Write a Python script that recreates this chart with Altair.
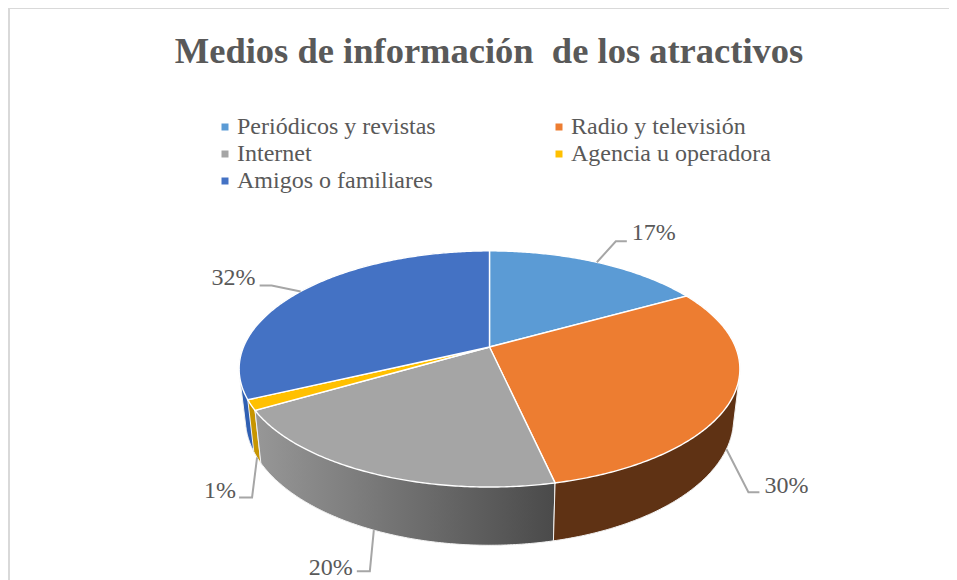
import numpy as np
import altair as alt

TITLE = "Medios de información\u00a0 de los atractivos"
categories = ["Periódicos y revistas", "Radio y televisión", "Internet", "Agencia u operadora", "Amigos o familiares"]
shares = [16.9, 29.6, 20.1, 1.4, 32.0]
top_colors = ["#5B9BD5", "#ED7D31", "#A5A5A5", "#FFC000", "#4472C4"]
wall_colors = ["#33608A", "#5F3214", None, "#C79500", "#2F5FB3"]
label_rim = ["top", "bottom", "bottom", "bottom", "top"]
# leader elbow and end, label start: offsets from the rim point of each slice
leader_elbow = [(19, -21), (22, 43), (-4, 41), (-5, 40), (-29, -6)]
leader_end = [(30, -21), (33, 43), (-17, 41), (-18, 40), (-41, -6)]
label_pos = [(35, -29), (38, 37), (-65, 38), (-53, 34), (-89, -13)]

TEXT = "#595959"
SERIF = "Liberation Serif"
OX, OY = 8, 8                # page margin
CX, CY = 489.5 - OX, 347 - OY  # pie apex on the canvas
A, B, K = 246.0, 114.0, -0.186  # perspective of the disc
SHRINK = 0.975
W, H = 941, 572


def rim(theta, lower=False):
    u, v = np.sin(theta), -np.cos(theta)
    d = 1 + K * v
    x, y = A * u / d, B * v / d
    if lower:
        depth = 52 + (y - 53) * (6 / 84)
        return CX + SHRINK * x, CY + y + depth
    return CX + x, CY + y


def arc(t0, t1, lower=False):
    n = max(3, int(abs(t1 - t0) / 0.01))
    return [[float(p) for p in rim(t, lower)] for t in np.linspace(t0, t1, n)]


def hull(points):
    pts = sorted(map(tuple, points))

    def half(seq):
        out = []
        for p in seq:
            while len(out) > 1 and (out[-1][0] - out[-2][0]) * (p[1] - out[-2][1]) - (out[-1][1] - out[-2][1]) * (p[0] - out[-2][0]) <= 0:
                out.pop()
            out.append(p)
        return out[:-1]

    ring = half(pts) + half(pts[::-1])
    return [list(p) for p in ring + ring[:1]]


def feature(coords, name, kind="Polygon"):
    geom = {"type": kind, "coordinates": [coords] if kind == "Polygon" else coords}
    return {"type": "Feature", "geometry": geom, "properties": {"name": name}}


edges = 2 * np.pi * np.cumsum([0] + shares) / sum(shares)
faces, walls = [], []
for i, name in enumerate(categories):
    t0, t1 = edges[i], edges[i + 1]
    poly = [[CX, CY]] + arc(t0, t1) + [[CX, CY]]
    faces.append(feature(poly, name))
    walls.append(feature(hull(arc(t0, t1) + arc(t0, t1, lower=True)), name))

face_layer = (
    alt.Chart(alt.Data(values=faces))
    .mark_geoshape(stroke="#FFFFFF", strokeWidth=1.4)
    .encode(
        fill=alt.Fill(
            "properties.name:N",
            sort=categories,
            scale=alt.Scale(domain=categories, range=top_colors),
            legend=alt.Legend(
                title=None,
                orient="none",
                legendX=205,
                legendY=107,
                columns=2,
                direction="horizontal",
                symbolType="square",
                symbolSize=49,
                symbolStrokeWidth=0,
                symbolStrokeColor="transparent",
                labelFont=SERIF,
                labelFontSize=24,
                labelColor=TEXT,
                labelOffset=0,
                labelLimit=300,
                columnPadding=111,
                rowPadding=3,
                padding=0,
            ),
        )
    )
)

gray_wall = alt.Gradient(
    gradient="linear",
    x1=0, x2=1, y1=0, y2=0,
    stops=[
        alt.GradientStop(color="#979797", offset=0),
        alt.GradientStop(color="#4A4A4A", offset=1),
    ],
)

wall_layers = []
for i in [4, 3, 2, 1]:
    fill = gray_wall if wall_colors[i] is None else wall_colors[i]
    wall_layers.append(
        alt.Chart(alt.Data(values=[walls[i]]))
        .mark_geoshape(fill=fill, stroke="#F2F2F2", strokeWidth=1)
    )

mids = (edges[:-1] + edges[1:]) / 2
leaders, labels = [], []
for i, t in enumerate(mids):
    ax, ay = (float(p) for p in rim(t, lower=label_rim[i] == "bottom"))
    path = [
        [ax, ay],
        [ax + leader_elbow[i][0], ay + leader_elbow[i][1]],
        [ax + leader_end[i][0], ay + leader_end[i][1]],
    ]
    leaders.append(feature(path, categories[i], "LineString"))
    labels.append(
        {"lon": ax + label_pos[i][0], "lat": ay + label_pos[i][1], "text": f"{round(shares[i])}%"}
    )

leader_layer = (
    alt.Chart(alt.Data(values=leaders))
    .mark_geoshape(filled=False, stroke="#A6A6A6", strokeWidth=2)
)

label_layer = (
    alt.Chart(alt.Data(values=labels))
    .mark_text(font=SERIF, fontSize=24, color=TEXT, align="left", baseline="middle")
    .encode(longitude="lon:Q", latitude="lat:Q", text="text:N")
)

frame_left = alt.Chart(alt.Data(values=[{"a": 0}])).mark_rule(color="#D9D9D9", strokeWidth=2).encode(
    x=alt.value(1), y=alt.value(0), y2=alt.value(H)
)
frame_top = alt.Chart(alt.Data(values=[{"a": 0}])).mark_rule(color="#D9D9D9", strokeWidth=2).encode(
    x=alt.value(0), x2=alt.value(W), y=alt.value(0)
)

chart = (
    alt.layer(frame_left, frame_top, *wall_layers, face_layer, leader_layer, label_layer)
    .project(type="identity", scale=1, translate=[0, 0])
    .properties(
        width=W,
        height=H,
        padding=0,
        autosize=alt.AutoSizeParams(type="none"),
        background="#FFFFFF",
        title=alt.TitleParams(
            TITLE,
            anchor="middle",
            font=SERIF,
            fontSize=36.5,
            fontWeight="bold",
            color=TEXT,
            offset=0,
            dx=10.5,
            dy=92,
            baseline="alphabetic",
        ),
    )
    .configure_view(stroke=None)
)

chart.save("out.html", embed_options={"renderer": "svg", "actions": False})
